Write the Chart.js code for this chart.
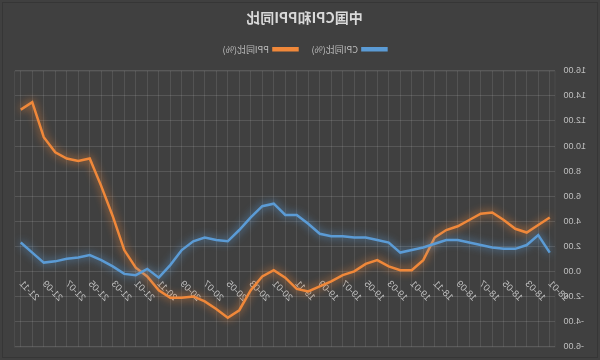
<!DOCTYPE html>
<html>
<head>
<meta charset="utf-8">
<script src="https://cdn.jsdelivr.net/npm/chart.js@4/dist/chart.umd.min.js"></script>
<style>
  html, body { margin: 0; padding: 0; background: #404040; }
  #wrap { width: 600px; height: 360px; transform: scaleX(-1); }
  canvas { display: block; }
</style>
</head>
<body>
<div id="wrap"><canvas id="c" width="600" height="360"></canvas></div>
<script>
const categories = [
  '18-01','18-02','18-03','18-04','18-05','18-06','18-07','18-08','18-09','18-10','18-11','18-12',
  '19-01','19-02','19-03','19-04','19-05','19-06','19-07','19-08','19-09','19-10','19-11','19-12',
  '20-01','20-02','20-03','20-04','20-05','20-06','20-07','20-08','20-09','20-10','20-11','20-12',
  '21-01','21-02','21-03','21-04','21-05','21-06','21-07','21-08','21-09','21-10','21-11'
];
const cpi = [
  1.5, 2.9, 2.1, 1.8, 1.8, 1.9, 2.1, 2.3, 2.5, 2.5, 2.2, 1.9,
  1.7, 1.5, 2.3, 2.5, 2.7, 2.7, 2.8, 2.8, 3.0, 3.8, 4.5, 4.5,
  5.4, 5.2, 4.3, 3.3, 2.4, 2.5, 2.7, 2.4, 1.7, 0.5, -0.5, 0.2,
  -0.3, -0.2, 0.4, 0.9, 1.3, 1.1, 1.0, 0.8, 0.7, 1.5, 2.3
];
const ppi = [
  4.3, 3.7, 3.1, 3.4, 4.1, 4.7, 4.6, 4.1, 3.6, 3.3, 2.7, 0.9,
  0.1, 0.1, 0.4, 0.9, 0.6, 0.0, -0.3, -0.8, -1.2, -1.6, -1.4, -0.5,
  0.1, -0.4, -1.5, -3.1, -3.7, -3.0, -2.4, -2.0, -2.1, -2.1, -1.5, -0.4,
  0.3, 1.7, 4.4, 6.8, 9.0, 8.8, 9.0, 9.5, 10.7, 13.5, 12.9
];
const yTicks = [-6, -4, -2, 0, 2, 4, 6, 8, 10, 12, 14, 16];

const bgPlugin = {
  id: 'bg',
  beforeInit(chart) {
    const lg = chart.legend;
    if (lg) {
      const fit = lg.fit;
      lg.fit = function() { fit.call(this); this.height += 7; };
    }
  },
  beforeDraw(chart) {
    const ctx = chart.ctx, a = chart.chartArea;
    ctx.save();
    ctx.fillStyle = '#404040';
    ctx.fillRect(0, 0, chart.width, chart.height);
    ctx.strokeStyle = '#4c4c4c';
    ctx.lineWidth = 1;
    ctx.strokeRect(a.left + 0.5, a.top + 0.5, a.right - a.left, a.bottom - a.top);
    ctx.strokeStyle = '#363636';
    ctx.strokeRect(2.5, 2.5, chart.width - 5, chart.height - 5);
    ctx.restore();
  }
};
const glowPlugin = {
  id: 'glow',
  beforeDatasetDraw(chart, args) {
    const ctx = chart.ctx;
    ctx.save();
    ctx.shadowColor = args.meta.dataset.options.borderColor;
    ctx.shadowBlur = 9;
  },
  afterDatasetDraw(chart) { chart.ctx.restore(); }
};

new Chart(document.getElementById('c'), {
  type: 'line',
  data: {
    labels: categories,
    datasets: [
      { label: 'CPI同比(%)', data: cpi, borderColor: '#5b9bd5', backgroundColor: '#5b9bd5', borderWidth: 2.5, pointRadius: 0, tension: 0 },
      { label: 'PPI同比(%)', data: ppi, borderColor: '#f0883a', backgroundColor: '#f0883a', borderWidth: 2.5, pointRadius: 0, tension: 0 }
    ]
  },
  options: {
    responsive: false,
    animation: false,
    layout: { padding: { left: 6, right: 15, top: 0, bottom: 13 } },
    plugins: {
      title: { display: true, text: '中国CPI和PPI同比', color: '#d9d9d9',
        font: { family: 'Noto Sans CJK SC', size: 14, weight: 'bold' }, padding: { top: 9, bottom: 5 } },
      legend: { display: true, position: 'top',
        labels: { color: '#bfbfbf', font: { family: 'Noto Sans CJK SC', size: 9 }, boxWidth: 24, boxHeight: 2, padding: 14 } },
      tooltip: { enabled: false }
    },
    scales: {
      x: {
        position: { y: 0 },
        offset: true,
        grid: { color: 'rgba(255,255,255,0.1)', drawTicks: false, offset: false },
        border: { display: false },
        ticks: {
          autoSkip: false, maxRotation: 45, minRotation: 45, padding: 7,
          color: '#bfbfbf', font: { family: 'Liberation Sans', size: 9.5 },
          callback: function(v, i) { return i % 2 === 0 ? categories[i] : ''; }
        }
      },
      y: {
        position: 'left',
        min: yTicks[0], max: yTicks[yTicks.length - 1],
        afterBuildTicks: function(s) { s.ticks = yTicks.map(v => ({ value: v })); },
        grid: { color: 'rgba(255,255,255,0.12)', drawTicks: false },
        border: { display: false },
        ticks: { color: '#bfbfbf', padding: 8, font: { family: 'Liberation Sans', size: 9 },
          callback: v => v.toFixed(2) }
      }
    }
  },
  plugins: [bgPlugin, glowPlugin]
});
</script>
</body>
</html>
